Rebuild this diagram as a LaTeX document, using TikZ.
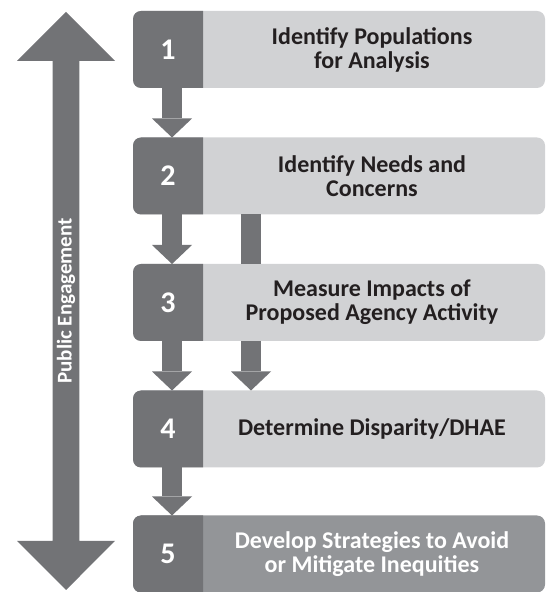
\documentclass[tikz,border=0pt]{standalone}
\usepackage{fontspec}
\setmainfont{Carlito}
\usepackage{tikz}
\usetikzlibrary{arrows.meta,shapes.arrows}
\definecolor{stepdark}{RGB}{114,115,118}
\definecolor{steplight}{RGB}{209,210,212}
\definecolor{stepmid}{RGB}{147,149,152}
\definecolor{steptext}{RGB}{35,31,32}

\begin{document}
\begin{tikzpicture}[x=1pt,y=1pt,
	stepbox/.style={rectangle,rounded corners=8pt,minimum width=412pt,minimum height=77pt,inner sep=0pt,outer sep=0pt,fill=steplight},
	numtext/.style={text=white,font=\bfseries\fontsize{30}{32}\selectfont},
	steplabel/.style={text=steptext,align=center,font=\bfseries\fontsize{24}{24}\selectfont},
	flow/.style={stepdark,line width=20pt,-{Triangle[width=40pt,length=19pt,line width=0pt]}},
	flowline/.style={stepdark,line width=20pt}]
	\useasboundingbox (0,0) rectangle (546,592);

	%public engagement
	\node[double arrow,rotate=90,fill=stepdark,minimum height=578pt,minimum width=98pt,double arrow head extend=25pt,double arrow tip angle=90,inner sep=0pt,text=white,font=\bfseries\fontsize{21}{22}\selectfont] (pe) at (66,291) {Public Engagement};

	%step1
	\node[stepbox] (b1) at (339,542.5) {};
	\begin{scope}
		\clip (b1.south west) rectangle ([xshift=70pt]b1.north west);
		\fill[stepdark,rounded corners=8pt] (b1.south west) rectangle (b1.north east);
	\end{scope}
	\node[numtext] (n1) at ([xshift=35pt]b1.west) {1};
	\node[steplabel] (t1) at ([xshift=-173pt]b1.east) {Identify Populations\\for Analysis};

	%step2
	\node[stepbox] (b2) at (339,416) {};
	\begin{scope}
		\clip (b2.south west) rectangle ([xshift=70pt]b2.north west);
		\fill[stepdark,rounded corners=8pt] (b2.south west) rectangle (b2.north east);
	\end{scope}
	\node[numtext] (n2) at ([xshift=35pt]b2.west) {2};
	\node[steplabel] (t2) at ([xshift=-173pt]b2.east) {Identify Needs and\\Concerns};

	%step3
	\node[stepbox] (b3) at (339,289.5) {};
	\begin{scope}
		\clip (b3.south west) rectangle ([xshift=70pt]b3.north west);
		\fill[stepdark,rounded corners=8pt] (b3.south west) rectangle (b3.north east);
	\end{scope}
	\node[numtext] (n3) at ([xshift=35pt]b3.west) {3};
	\node[steplabel] (t3) at ([xshift=-173pt]b3.east) {Measure Impacts of\\Proposed Agency Activity};

	%step4
	\node[stepbox] (b4) at (339,163) {};
	\begin{scope}
		\clip (b4.south west) rectangle ([xshift=70pt]b4.north west);
		\fill[stepdark,rounded corners=8pt] (b4.south west) rectangle (b4.north east);
	\end{scope}
	\node[numtext] (n4) at ([xshift=35pt]b4.west) {4};
	\node[steplabel] (t4) at ([xshift=-173pt]b4.east) {Determine Disparity/DHAE};

	%step5
	\node[stepbox,fill=stepmid] (b5) at (339,38) {};
	\begin{scope}
		\clip (b5.south west) rectangle ([xshift=70pt]b5.north west);
		\fill[stepdark,rounded corners=8pt] (b5.south west) rectangle (b5.north east);
	\end{scope}
	\node[numtext] (n5) at ([xshift=35pt]b5.west) {5};
	\node[steplabel,text=white] (t5) at ([xshift=-173pt]b5.east) {Develop Strategies to Avoid\\or Mitigate Inequities};

	%arrows
	\draw[flow] ([xshift=39pt]b1.south west) -- ([xshift=39pt]b2.north west);
	\draw[flow] ([xshift=39pt]b2.south west) -- ([xshift=39pt]b3.north west);
	\draw[flow] ([xshift=39pt]b3.south west) -- ([xshift=39pt]b4.north west);
	\draw[flow] ([xshift=39pt]b4.south west) -- ([xshift=39pt]b5.north west);
	\draw[flowline] ([xshift=118pt]b2.south west) -- ([xshift=118pt]b3.north west);
	\draw[flow] ([xshift=118pt]b3.south west) -- ([xshift=118pt]b4.north west);
\end{tikzpicture}
\end{document}
